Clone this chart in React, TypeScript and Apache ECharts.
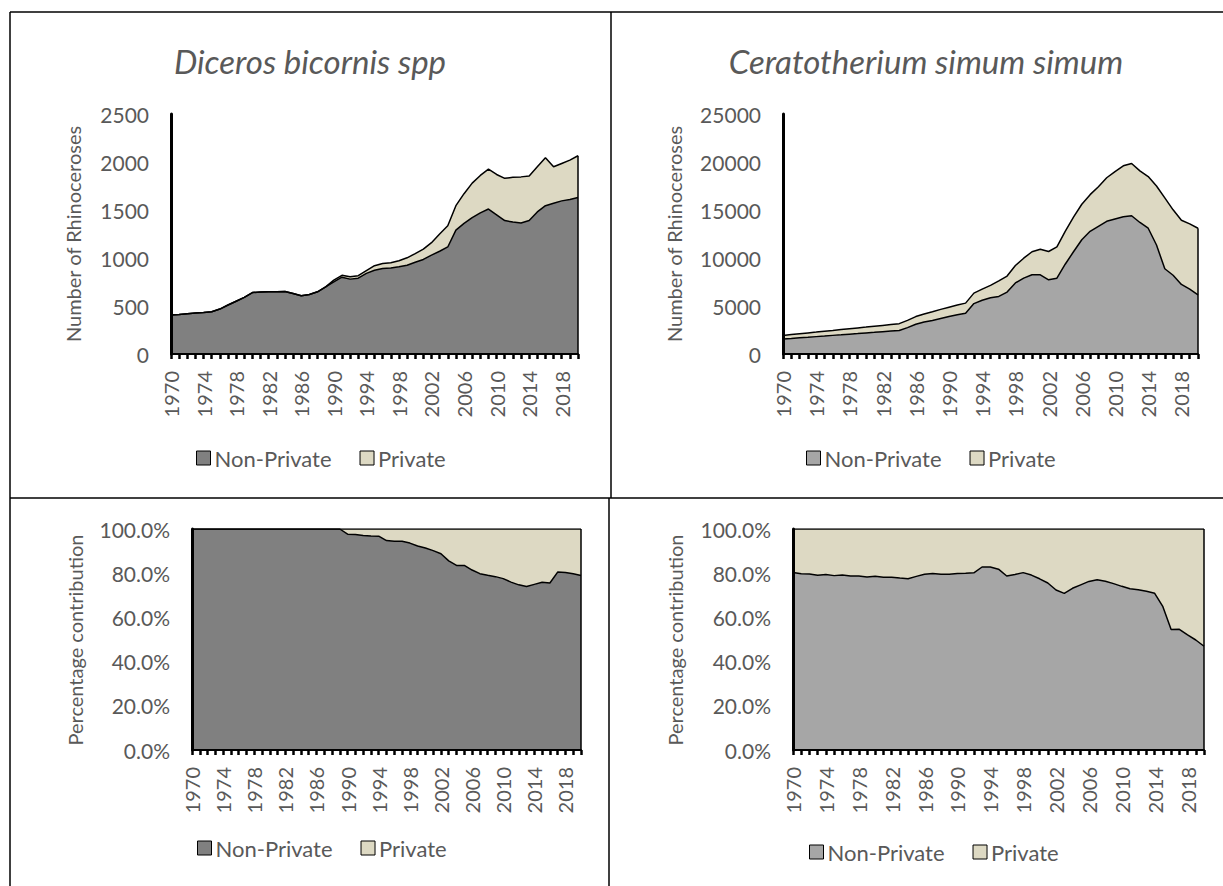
import React, { useEffect, useRef } from "react";
import * as echarts from "echarts";

const years = [
  "1970","1971","1972","1973","1974","1975","1976","1977","1978","1979",
  "1980","1981","1982","1983","1984","1985","1986","1987","1988","1989",
  "1990","1991","1992","1993","1994","1995","1996","1997","1998","1999",
  "2000","2001","2002","2003","2004","2005","2006","2007","2008","2009",
  "2010","2011","2012","2013","2014","2015","2016","2017","2018","2019","2020",
];

// Diceros bicornis spp
const dicerosNonPrivate = [
  405, 412, 420, 428, 432, 440, 468, 510, 550, 590,
  640, 645, 648, 648, 650, 630, 607, 620, 648, 700,
  752, 800, 780, 790, 840, 872, 890, 897, 910, 925,
  955, 985, 1030, 1070, 1115, 1290, 1360, 1420, 1470, 1510,
  1450, 1390, 1375, 1365, 1390, 1480, 1545, 1570, 1595, 1610, 1630,
];
const dicerosPrivate = [
  0, 0, 0, 0, 0, 0, 0, 0, 0, 0,
  0, 0, 0, 0, 0, 0, 0, 0, 0, 0,
  18, 20, 24, 26, 28, 48, 52, 53, 62, 77,
  90, 107, 130, 180, 220, 255, 310, 360, 390, 415,
  420, 440, 465, 480, 465, 470, 500, 380, 390, 410, 435,
];

// Ceratotherium simum simum
const ceratoNonPrivate = [
  1550, 1610, 1680, 1740, 1810, 1870, 1940, 2000, 2070, 2130,
  2200, 2260, 2330, 2390, 2450, 2750, 3100, 3330, 3500, 3700,
  3900, 4080, 4250, 5250, 5600, 5850, 6000, 6450, 7400, 7900,
  8250, 8250, 7730, 7900, 9350, 10650, 11900, 12780, 13300, 13820,
  14070, 14300, 14400, 13700, 13100, 11350, 8880, 8200, 7250, 6750, 6150,
];
const ceratoPrivate = [
  380, 410, 430, 460, 470, 500, 510, 540, 560, 590,
  600, 630, 650, 680, 710, 750, 800, 840, 900, 950,
  980, 1020, 1050, 1090, 1160, 1300, 1620, 1670, 1820, 2080,
  2400, 2670, 2950, 3250, 3430, 3600, 3700, 3820, 4120, 4540,
  4930, 5300, 5450, 5380, 5380, 6150, 7390, 6820, 6680, 6810, 6950,
];

const dicerosTicks = { max: 2500, interval: 500 };
const ceratoTicks = { max: 25000, interval: 5000 };
const pctTicks = { max: 100, interval: 20 };

const titles = ["Diceros bicornis spp", "Ceratotherium simum simum"];
const seriesNames = ["Non-Private", "Private"];

const DARK = "#808080";
const LIGHT = "#A6A6A6";
const TAN = "#DDD9C3";
const TEXT = "#595959";
const FONT = "Lato, 'Open Sans', sans-serif";

function toPct(a: number[], b: number[]) {
  return a.map((v, i) => (v / (v + b[i])) * 100);
}

export default function App() {
  const ref = useRef<HTMLDivElement>(null);

  useEffect(() => {
    if (!ref.current) return;
    const chart = echarts.init(ref.current, null, { renderer: "svg" });

    const grids = [
      { left: 171, top: 114, width: 407, height: 240 },
      { left: 783, top: 114, width: 415, height: 240 },
      { left: 192, top: 529, width: 389, height: 221 },
      { left: 793, top: 529, width: 411, height: 221 },
    ];

    const panels = [
      { np: dicerosNonPrivate, pr: dicerosPrivate, ticks: dicerosTicks, fill: DARK, pct: false },
      { np: ceratoNonPrivate, pr: ceratoPrivate, ticks: ceratoTicks, fill: LIGHT, pct: false },
      { np: toPct(dicerosNonPrivate, dicerosPrivate), pr: toPct(dicerosPrivate, dicerosNonPrivate), ticks: pctTicks, fill: DARK, pct: true },
      { np: toPct(ceratoNonPrivate, ceratoPrivate), pr: toPct(ceratoPrivate, ceratoNonPrivate), ticks: pctTicks, fill: LIGHT, pct: true },
    ];

    const xAxis = panels.map((_, i) => ({
      type: "category",
      gridIndex: i,
      data: years,
      boundaryGap: false,
      z: 5,
      axisLine: { show: true, lineStyle: { color: "#000", width: 2 } },
      axisTick: { show: true, interval: 0, length: 5, lineStyle: { color: "#000", width: 2.5 } },
      axisLabel: {
        interval: 3,
        rotate: 90,
        margin: 17,
        color: TEXT,
        fontSize: 20,
        fontFamily: FONT,
      },
      splitLine: { show: false },
    }));

    const yAxis = panels.map((p, i) => ({
      type: "value",
      gridIndex: i,
      min: 0,
      max: p.ticks.max,
      interval: p.ticks.interval,
      z: 5,
      axisLine: { show: true, lineStyle: { color: "#000", width: 3 } },
      axisTick: { show: false },
      splitLine: { show: false },
      axisLabel: {
        margin: 22,
        color: TEXT,
        fontSize: 21,
        fontFamily: FONT,
        formatter: p.pct ? (v: number) => v.toFixed(1) + "%" : (v: number) => String(v),
      },
    }));

    const last = years.length - 1;
    const series: any[] = [];
    panels.forEach((p, i) => {
      series.push({
        type: "line",
        name: seriesNames[0],
        xAxisIndex: i,
        yAxisIndex: i,
        stack: "s" + i,
        data: p.np,
        symbol: "none",
        showSymbol: false,
        lineStyle: { color: "#000", width: 1.5 },
        itemStyle: { color: p.fill },
        areaStyle: { color: p.fill, opacity: 1 },
        z: 2,
      });
      series.push({
        type: "line",
        name: seriesNames[1],
        xAxisIndex: i,
        yAxisIndex: i,
        stack: "s" + i,
        data: p.pr,
        symbol: "none",
        showSymbol: false,
        lineStyle: { color: "#000", width: 1.5 },
        itemStyle: { color: TAN },
        areaStyle: { color: TAN, opacity: 1 },
        z: 2,
        markLine: {
          silent: true,
          symbol: "none",
          label: { show: false },
          lineStyle: { color: "#000", width: 1.5, type: "solid" },
          data: [[{ coord: [last, 0] }, { coord: [last, p.np[last] + p.pr[last]] }]],
        },
      });
    });

    const legendPos = [
      { left: 196, top: 447 },
      { left: 806, top: 447 },
      { left: 197, top: 837 },
      { left: 809, top: 841 },
    ];
    const legend = panels.map((p, i) => ({
      ...legendPos[i],
      orient: "horizontal",
      padding: 0,
      itemGap: 28,
      itemWidth: 14,
      itemHeight: 14,
      icon: "rect",
      selectedMode: false,
      textStyle: { color: TEXT, fontSize: 22, fontFamily: FONT, padding: [0, 0, 0, -1] },
      data: [
        { name: seriesNames[0], itemStyle: { color: p.fill, borderColor: "#000", borderWidth: 1 } },
        { name: seriesNames[1], itemStyle: { color: TAN, borderColor: "#000", borderWidth: 1 } },
      ],
    }));

    const textEl = (text: string, x: number, y: number, font: string, rot = 0) => ({
      type: "text",
      x,
      y,
      rotation: rot,
      style: {
        text,
        font,
        fill: TEXT,
        textAlign: "center",
        textVerticalAlign: "middle",
        align: "center",
        verticalAlign: "middle",
      },
    });
    const lineEl = (x1: number, y1: number, x2: number, y2: number) => ({
      type: "line",
      shape: { x1, y1, x2, y2 },
      style: { stroke: "#000", lineWidth: 1.5 },
    });

    const graphic = [
      lineEl(10, 12, 1223, 12),
      lineEl(10, 12, 10, 886),
      lineEl(611, 12, 611, 498),
      lineEl(10, 498, 1223, 498),
      lineEl(609, 498, 609, 886),
      textEl(titles[0], 310, 61, "italic 33px " + FONT),
      textEl(titles[1], 926, 61, "italic 33px " + FONT),
      textEl("Number of Rhinoceroses", 73, 234, "20px " + FONT, Math.PI / 2),
      textEl("Number of Rhinoceroses", 674, 234, "20px " + FONT, Math.PI / 2),
      textEl("Percentage contribution", 75, 640, "20px " + FONT, Math.PI / 2),
      textEl("Percentage contribution", 675, 640, "20px " + FONT, Math.PI / 2),
    ];

    chart.setOption({
      animation: false,
      backgroundColor: "#fff",
      grid: grids,
      xAxis,
      yAxis,
      series,
      legend,
      graphic,
    } as any);

    return () => chart.dispose();
  }, []);

  return (
    <div
      ref={ref}
      style={{ position: "absolute", left: 0, top: 0, width: 1223, height: 886 }}
    />
  );
}
